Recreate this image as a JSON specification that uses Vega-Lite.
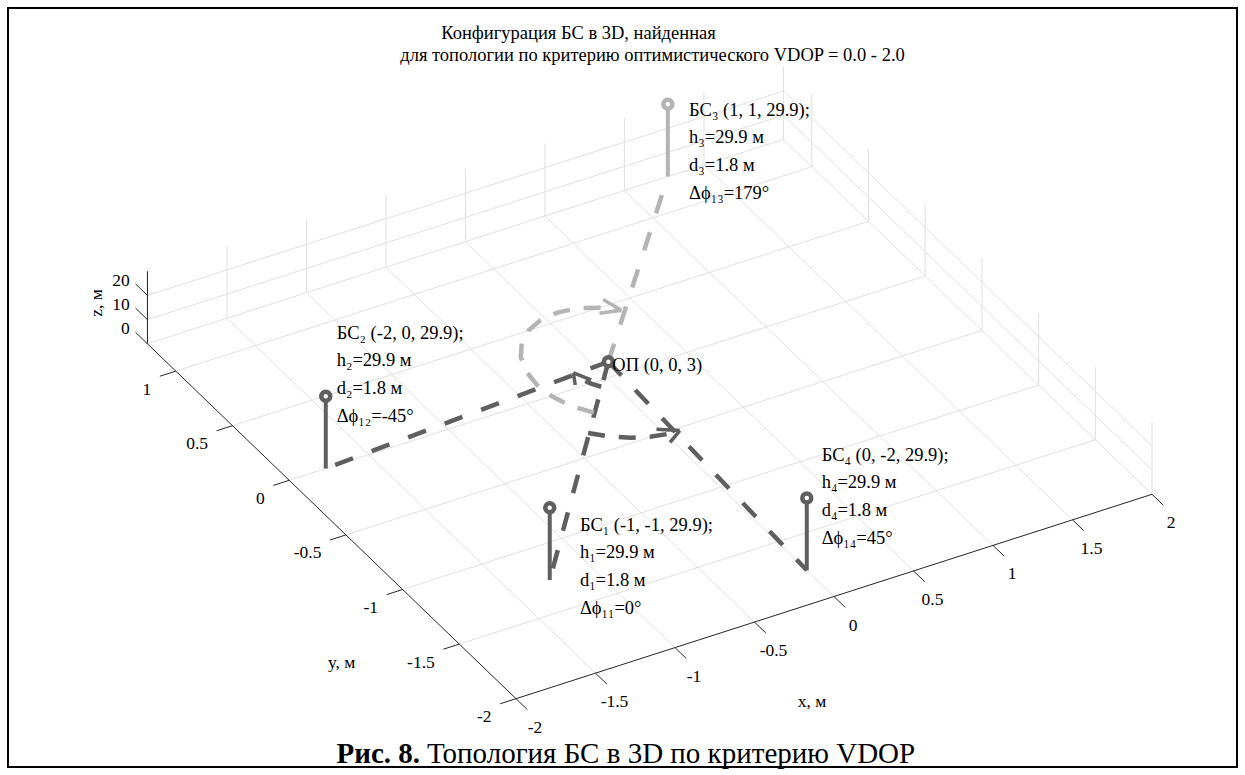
{
  "$schema": "https://vega.github.io/schema/vega-lite/v6.json",
  "autosize": "none",
  "padding": 8,
  "width": 1229,
  "height": 759,
  "background": "white",
  "config": {
    "view": {"stroke": "#000000", "strokeWidth": 2},
    "text": {"font": "Liberation Serif", "color": "#000000"}
  },
  "title": {
    "text": ["Конфигурация БС в 3D, найденная\u00a0\u00a0\u00a0\u00a0\u00a0\u00a0\u00a0\u00a0\u00a0\u00a0\u00a0\u00a0\u00a0\u00a0\u00a0\u00a0\u00a0\u00a0\u00a0\u00a0\u00a0\u00a0\u00a0\u00a0\u00a0\u00a0\u00a0\u00a0\u00a0\u00a0\u00a0\u00a0\u200b", "для топологии по критерию оптимистического VDOP = 0.0 - 2.0"],
    "orient": "top",
    "anchor": "middle",
    "baseline": "top",
    "offset": -56,
    "dx": 30,
    "font": "Liberation Serif",
    "fontSize": 18.5,
    "fontWeight": "normal",
    "lineHeight": 21.5,
    "color": "#000000"
  },
  "data": {
    "values": [
      {"g": "grid", "x": -1.5, "y": -2, "z": 0, "x2": -1.5, "y2": 1.25, "z2": 0},
      {"g": "grid", "x": -1, "y": -2, "z": 0, "x2": -1, "y2": 1.25, "z2": 0},
      {"g": "grid", "x": -0.5, "y": -2, "z": 0, "x2": -0.5, "y2": 1.25, "z2": 0},
      {"g": "grid", "x": 0, "y": -2, "z": 0, "x2": 0, "y2": 1.25, "z2": 0},
      {"g": "grid", "x": 0.5, "y": -2, "z": 0, "x2": 0.5, "y2": 1.25, "z2": 0},
      {"g": "grid", "x": 1, "y": -2, "z": 0, "x2": 1, "y2": 1.25, "z2": 0},
      {"g": "grid", "x": 1.5, "y": -2, "z": 0, "x2": 1.5, "y2": 1.25, "z2": 0},
      {"g": "grid", "x": 2, "y": -2, "z": 0, "x2": 2, "y2": 1.25, "z2": 0},
      {"g": "grid", "x": -2, "y": -1.5, "z": 0, "x2": 2, "y2": -1.5, "z2": 0},
      {"g": "grid", "x": -2, "y": -1, "z": 0, "x2": 2, "y2": -1, "z2": 0},
      {"g": "grid", "x": -2, "y": -0.5, "z": 0, "x2": 2, "y2": -0.5, "z2": 0},
      {"g": "grid", "x": -2, "y": 0, "z": 0, "x2": 2, "y2": 0, "z2": 0},
      {"g": "grid", "x": -2, "y": 0.5, "z": 0, "x2": 2, "y2": 0.5, "z2": 0},
      {"g": "grid", "x": -2, "y": 1, "z": 0, "x2": 2, "y2": 1, "z2": 0},
      {"g": "grid", "x": -1.5, "y": 1.25, "z": 0, "x2": -1.5, "y2": 1.25, "z2": 30},
      {"g": "grid", "x": -1, "y": 1.25, "z": 0, "x2": -1, "y2": 1.25, "z2": 30},
      {"g": "grid", "x": -0.5, "y": 1.25, "z": 0, "x2": -0.5, "y2": 1.25, "z2": 30},
      {"g": "grid", "x": 0, "y": 1.25, "z": 0, "x2": 0, "y2": 1.25, "z2": 30},
      {"g": "grid", "x": 0.5, "y": 1.25, "z": 0, "x2": 0.5, "y2": 1.25, "z2": 30},
      {"g": "grid", "x": 1, "y": 1.25, "z": 0, "x2": 1, "y2": 1.25, "z2": 30},
      {"g": "grid", "x": 1.5, "y": 1.25, "z": 0, "x2": 1.5, "y2": 1.25, "z2": 30},
      {"g": "grid", "x": 2, "y": 1.25, "z": 0, "x2": 2, "y2": 1.25, "z2": 30},
      {"g": "grid", "x": -2, "y": 1.25, "z": 0, "x2": 2, "y2": 1.25, "z2": 0},
      {"g": "grid", "x": -2, "y": 1.25, "z": 10, "x2": 2, "y2": 1.25, "z2": 10},
      {"g": "grid", "x": -2, "y": 1.25, "z": 20, "x2": 2, "y2": 1.25, "z2": 20},
      {"g": "grid", "x": 2, "y": -2, "z": 0, "x2": 2, "y2": -2, "z2": 30},
      {"g": "grid", "x": 2, "y": -1.5, "z": 0, "x2": 2, "y2": -1.5, "z2": 30},
      {"g": "grid", "x": 2, "y": -1, "z": 0, "x2": 2, "y2": -1, "z2": 30},
      {"g": "grid", "x": 2, "y": -0.5, "z": 0, "x2": 2, "y2": -0.5, "z2": 30},
      {"g": "grid", "x": 2, "y": 0, "z": 0, "x2": 2, "y2": 0, "z2": 30},
      {"g": "grid", "x": 2, "y": 0.5, "z": 0, "x2": 2, "y2": 0.5, "z2": 30},
      {"g": "grid", "x": 2, "y": 1, "z": 0, "x2": 2, "y2": 1, "z2": 30},
      {"g": "grid", "x": 2, "y": -2, "z": 10, "x2": 2, "y2": 1.25, "z2": 10},
      {"g": "grid", "x": 2, "y": -2, "z": 20, "x2": 2, "y2": 1.25, "z2": 20},

      {"g": "axis", "x": -2, "y": -2, "z": 0, "x2": 2, "y2": -2, "z2": 0},
      {"g": "axis", "x": -2, "y": -2, "z": 0, "x2": -2, "y2": 1.25, "z2": 0},
      {"g": "axis", "x": -2, "y": 1.25, "z": 0, "x2": -2, "y2": 1.25, "z2": 30},
      {"g": "axis", "x": -2, "y": -2, "z": 0, "x2": -2, "y2": -2.1, "z2": 0},
      {"g": "axis", "x": -1.5, "y": -2, "z": 0, "x2": -1.5, "y2": -2.1, "z2": 0},
      {"g": "axis", "x": -1, "y": -2, "z": 0, "x2": -1, "y2": -2.1, "z2": 0},
      {"g": "axis", "x": -0.5, "y": -2, "z": 0, "x2": -0.5, "y2": -2.1, "z2": 0},
      {"g": "axis", "x": 0, "y": -2, "z": 0, "x2": 0, "y2": -2.1, "z2": 0},
      {"g": "axis", "x": 0.5, "y": -2, "z": 0, "x2": 0.5, "y2": -2.1, "z2": 0},
      {"g": "axis", "x": 1, "y": -2, "z": 0, "x2": 1, "y2": -2.1, "z2": 0},
      {"g": "axis", "x": 1.5, "y": -2, "z": 0, "x2": 1.5, "y2": -2.1, "z2": 0},
      {"g": "axis", "x": 2, "y": -2, "z": 0, "x2": 2, "y2": -2.1, "z2": 0},
      {"g": "axis", "x": -2, "y": -2, "z": 0, "x2": -2.1, "y2": -2, "z2": 0},
      {"g": "axis", "x": -2, "y": -1.5, "z": 0, "x2": -2.1, "y2": -1.5, "z2": 0},
      {"g": "axis", "x": -2, "y": -1, "z": 0, "x2": -2.1, "y2": -1, "z2": 0},
      {"g": "axis", "x": -2, "y": -0.5, "z": 0, "x2": -2.1, "y2": -0.5, "z2": 0},
      {"g": "axis", "x": -2, "y": 0, "z": 0, "x2": -2.1, "y2": 0, "z2": 0},
      {"g": "axis", "x": -2, "y": 0.5, "z": 0, "x2": -2.1, "y2": 0.5, "z2": 0},
      {"g": "axis", "x": -2, "y": 1, "z": 0, "x2": -2.1, "y2": 1, "z2": 0},
      {"g": "axis", "x": -2, "y": 1.25, "z": 0, "x2": -2, "y2": 1.355, "z2": 0},
      {"g": "axis", "x": -2, "y": 1.25, "z": 10, "x2": -2, "y2": 1.355, "z2": 10},
      {"g": "axis", "x": -2, "y": 1.25, "z": 20, "x2": -2, "y2": 1.355, "z2": 20},

      {"g": "xl", "t": "-2", "x": -2, "y": -2, "z": 0},
      {"g": "xl", "t": "-1.5", "x": -1.5, "y": -2, "z": 0},
      {"g": "xl", "t": "-1", "x": -1, "y": -2, "z": 0},
      {"g": "xl", "t": "-0.5", "x": -0.5, "y": -2, "z": 0},
      {"g": "xl", "t": "0", "x": 0, "y": -2, "z": 0},
      {"g": "xl", "t": "0.5", "x": 0.5, "y": -2, "z": 0},
      {"g": "xl", "t": "1", "x": 1, "y": -2, "z": 0},
      {"g": "xl", "t": "1.5", "x": 1.5, "y": -2, "z": 0},
      {"g": "xl", "t": "2", "x": 2, "y": -2, "z": 0},
      {"g": "yl", "t": "-2", "x": -2, "y": -2, "z": 0},
      {"g": "yl", "t": "-1.5", "x": -2, "y": -1.5, "z": 0},
      {"g": "yl", "t": "-1", "x": -2, "y": -1, "z": 0},
      {"g": "yl", "t": "-0.5", "x": -2, "y": -0.5, "z": 0},
      {"g": "yl", "t": "0", "x": -2, "y": 0, "z": 0},
      {"g": "yl", "t": "0.5", "x": -2, "y": 0.5, "z": 0},
      {"g": "yl", "t": "1", "x": -2, "y": 1, "z": 0},
      {"g": "zl", "t": "0", "x": -2, "y": 1.25, "z": 0},
      {"g": "zl", "t": "10", "x": -2, "y": 1.25, "z": 10},
      {"g": "zl", "t": "20", "x": -2, "y": 1.25, "z": 20},
      {"g": "at", "t": "x, м", "x": -0.62, "y": -2.676, "z": 0},
      {"g": "at", "t": "y, м", "x": -2.646, "y": -1.368, "z": 0},
      {"g": "zt", "t": "z, м", "x": -2.216, "y": 1.392, "z": 15},

      {"g": "ray", "st": "БС1", "x": 0.05, "y": 0.06, "z": 3, "x2": -1.26, "y2": -1.26, "z2": 0},
      {"g": "ray", "st": "БС2", "x": 0.05, "y": 0.06, "z": 3, "x2": -1.77, "y2": 0, "z2": 0},
      {"g": "ray", "st": "БС3", "x": 0.05, "y": 0.06, "z": 3, "x2": 1.273, "y2": 1.25, "z2": 0},
      {"g": "ray", "st": "БС4", "x": 0.05, "y": 0.06, "z": 3, "x2": 0, "y2": -1.76, "z2": 0},

      {"g": "arc", "st": "БС3", "k": "a3", "i": 0, "x": -0.268, "y": -0.258, "z": 3},
      {"g": "arc", "st": "БС3", "k": "a3", "i": 1, "x": -0.34, "y": -0.165, "z": 3},
      {"g": "arc", "st": "БС3", "k": "a3", "i": 2, "x": -0.385, "y": -0.056, "z": 3},
      {"g": "arc", "st": "БС3", "k": "a3", "i": 3, "x": -0.4, "y": 0.06, "z": 3},
      {"g": "arc", "st": "БС3", "k": "a3", "i": 4, "x": -0.385, "y": 0.176, "z": 3},
      {"g": "arc", "st": "БС3", "k": "a3", "i": 5, "x": -0.34, "y": 0.285, "z": 3},
      {"g": "arc", "st": "БС3", "k": "a3", "i": 6, "x": -0.268, "y": 0.378, "z": 3},
      {"g": "arc", "st": "БС3", "k": "a3", "i": 7, "x": -0.175, "y": 0.45, "z": 3},
      {"g": "arc", "st": "БС3", "k": "a3", "i": 8, "x": -0.066, "y": 0.495, "z": 3},
      {"g": "arc", "st": "БС3", "k": "a3", "i": 9, "x": 0.05, "y": 0.51, "z": 3},
      {"g": "arc", "st": "БС3", "k": "a3", "i": 10, "x": 0.166, "y": 0.495, "z": 3},
      {"g": "arc", "st": "БС3", "k": "a3", "i": 11, "x": 0.275, "y": 0.45, "z": 3},
      {"g": "arc", "st": "БС3", "k": "a3", "i": 12, "x": 0.363, "y": 0.384, "z": 3},
      {"g": "arc", "st": "БС4", "k": "a4", "i": 0, "x": -0.395, "y": -0.385, "z": 3},
      {"g": "arc", "st": "БС4", "k": "a4", "i": 1, "x": -0.311, "y": -0.456, "z": 3},
      {"g": "arc", "st": "БС4", "k": "a4", "i": 2, "x": -0.216, "y": -0.511, "z": 3},
      {"g": "arc", "st": "БС4", "k": "a4", "i": 3, "x": -0.113, "y": -0.549, "z": 3},
      {"g": "arc", "st": "БС4", "k": "a4", "i": 4, "x": -0.038, "y": -0.564, "z": 3},
      {"g": "arc", "st": "БС4", "k": "a4", "i": 5, "x": 0.05, "y": -0.57, "z": 3},
      {"g": "arc", "st": "БС2", "k": "a2", "i": 0, "x": -0.106, "y": -0.096, "z": 3},
      {"g": "arc", "st": "БС2", "k": "a2", "i": 1, "x": -0.141, "y": -0.05, "z": 3},
      {"g": "arc", "st": "БС2", "k": "a2", "i": 2, "x": -0.163, "y": 0.003, "z": 3},
      {"g": "arc", "st": "БС2", "k": "a2", "i": 3, "x": -0.17, "y": 0.06, "z": 3},

      {"g": "barb", "st": "БС3", "x": 0.363, "y": 0.384, "z": 3, "x2": 0.246, "y2": 0.413, "z2": 3},
      {"g": "barb", "st": "БС3", "x": 0.363, "y": 0.384, "z": 3, "x2": 0.33, "y2": 0.499, "z2": 3},
      {"g": "barb", "st": "БС4", "x": 0.05, "y": -0.57, "z": 3, "x2": -0.054, "y2": -0.63, "z2": 3},
      {"g": "barb", "st": "БС4", "x": 0.05, "y": -0.57, "z": 3, "x2": -0.054, "y2": -0.51, "z2": 3},
      {"g": "barb", "st": "БС2", "x": -0.17, "y": 0.06, "z": 3, "x2": -0.12, "y2": -0.027, "z2": 3},
      {"g": "barb", "st": "БС2", "x": -0.17, "y": 0.06, "z": 3, "x2": -0.22, "y2": -0.027, "z2": 3},

      {"g": "stem", "st": "БС1", "x": -1.26, "y": -1.26, "z": 0, "x2": -1.26, "y2": -1.26, "z2": 29.9},
      {"g": "stem", "st": "БС2", "x": -1.77, "y": 0, "z": 0, "x2": -1.77, "y2": 0, "z2": 29.9},
      {"g": "stem", "st": "БС3", "x": 1.273, "y": 1.25, "z": 0, "x2": 1.273, "y2": 1.25, "z2": 29.9},
      {"g": "stem", "st": "БС4", "x": 0, "y": -1.76, "z": 0, "x2": 0, "y2": -1.76, "z2": 29.9},

      {"g": "mk", "st": "БС1", "x": -1.26, "y": -1.26, "z": 29.9},
      {"g": "mk", "st": "БС2", "x": -1.77, "y": 0, "z": 29.9},
      {"g": "mk", "st": "БС3", "x": 1.273, "y": 1.25, "z": 29.9},
      {"g": "mk", "st": "БС4", "x": 0, "y": -1.76, "z": 29.9},
      {"g": "mk", "st": "ОП", "x": 0.05, "y": 0.06, "z": 3},

      {"g": "bl", "st": "БС1", "x": -1.156, "y": -1.38, "z": 29.9, "t": ["БС₁ (-1, -1, 29.9);", "h₁=29.9 м", "d₁=1.8 м", "Δϕ₁₁=0°"]},
      {"g": "bl", "st": "БС2", "x": -1.364, "y": 0.473, "z": 29.9, "t": ["БС₂ (-2, 0, 29.9);", "h₂=29.9 м", "d₂=1.8 м", "Δϕ₁₂=-45°"]},
      {"g": "bl", "st": "БС3", "x": 1.391, "y": 1.228, "z": 29.9, "t": ["БС₃ (1, 1, 29.9);", "h₃=29.9 м", "d₃=1.8 м", "Δϕ₁₃=179°"]},
      {"g": "bl", "st": "БС4", "x": 0.327, "y": -1.433, "z": 29.9, "t": ["БС₄ (0, -2, 29.9);", "h₄=29.9 м", "d₄=1.8 м", "Δϕ₁₄=45°"]},
      {"g": "opl", "st": "ОП", "x": 0.05, "y": 0.06, "z": 3, "t": "ОП (0, 0, 3)"}
    ]
  },
  "transform": [
    {"calculate": "159 * datum.x - 113.4 * datum.y", "as": "u"},
    {"calculate": "51.1 * datum.x + 109.2 * datum.y + 2.42 * datum.z", "as": "w"},
    {"calculate": "159 * datum.x2 - 113.4 * datum.y2", "as": "u2"},
    {"calculate": "51.1 * datum.x2 + 109.2 * datum.y2 + 2.42 * datum.z2", "as": "w2"}
  ],
  "encoding": {
    "x": {
      "field": "u", "type": "quantitative",
      "scale": {"domain": [-599.2, 629.8], "nice": false, "zero": false},
      "axis": {
        "orient": "bottom", "domain": false, "ticks": false, "labels": false, "grid": false,
        "title": "Рис. 8.", "titleFont": "Liberation Serif", "titleFontSize": 29, "titleFontWeight": "bold",
        "titleColor": "#000000", "titleAlign": "left", "titleBaseline": "middle",
        "titleX": 328, "titleY": -14
      }
    },
    "y": {
      "field": "w", "type": "quantitative",
      "scale": {"domain": [-388.9, 370.1], "nice": false, "zero": false},
      "axis": {
        "orient": "left", "domain": false, "ticks": false, "labels": false, "grid": false,
        "title": "Топология БС в 3D по критерию VDOP", "titleFont": "Liberation Serif", "titleFontSize": 29,
        "titleFontWeight": "normal", "titleColor": "#000000", "titleAngle": 0, "titleAlign": "left",
        "titleBaseline": "middle", "titleX": 418.5, "titleY": 745
      }
    }
  },
  "layer": [
    {
      "transform": [{"filter": "datum.g === 'grid'"}],
      "mark": {"type": "rule", "color": "#e0e0e0", "strokeWidth": 1},
      "encoding": {"x2": {"field": "u2"}, "y2": {"field": "w2"}}
    },
    {
      "transform": [{"filter": "datum.g === 'axis'"}],
      "mark": {"type": "rule", "color": "#262626", "strokeWidth": 1},
      "encoding": {"x2": {"field": "u2"}, "y2": {"field": "w2"}}
    },
    {
      "transform": [{"filter": "datum.g === 'ray'"}],
      "mark": {"type": "rule", "strokeWidth": 4.5, "strokeDash": [19, 20], "strokeCap": "butt"},
      "encoding": {
        "x2": {"field": "u2"}, "y2": {"field": "w2"},
        "color": {"field": "st", "type": "nominal", "legend": null,
          "scale": {"domain": ["ОП", "БС1", "БС2", "БС3", "БС4"], "range": ["#5f5f5f", "#5f5f5f", "#5f5f5f", "#b4b4b4", "#5f5f5f"]}}
      }
    },
    {
      "transform": [{"filter": "datum.g === 'arc'"}],
      "mark": {"type": "line", "strokeWidth": 4.5, "strokeDash": [17, 14], "strokeCap": "butt"},
      "encoding": {
        "detail": {"field": "k"},
        "order": {"field": "i", "type": "quantitative"},
        "color": {"field": "st", "type": "nominal", "legend": null,
          "scale": {"domain": ["ОП", "БС1", "БС2", "БС3", "БС4"], "range": ["#5f5f5f", "#5f5f5f", "#5f5f5f", "#b4b4b4", "#5f5f5f"]}}
      }
    },
    {
      "transform": [{"filter": "datum.g === 'barb'"}],
      "mark": {"type": "rule", "strokeWidth": 3.5},
      "encoding": {
        "x2": {"field": "u2"}, "y2": {"field": "w2"},
        "color": {"field": "st", "type": "nominal", "legend": null,
          "scale": {"domain": ["ОП", "БС1", "БС2", "БС3", "БС4"], "range": ["#5f5f5f", "#5f5f5f", "#5f5f5f", "#b4b4b4", "#5f5f5f"]}}
      }
    },
    {
      "transform": [{"filter": "datum.g === 'stem'"}],
      "mark": {"type": "rule", "strokeWidth": 4},
      "encoding": {
        "x2": {"field": "u2"}, "y2": {"field": "w2"},
        "color": {"field": "st", "type": "nominal", "legend": null,
          "scale": {"domain": ["ОП", "БС1", "БС2", "БС3", "БС4"], "range": ["#5f5f5f", "#5f5f5f", "#5f5f5f", "#b4b4b4", "#5f5f5f"]}}
      }
    },
    {
      "transform": [{"filter": "datum.g === 'mk'"}],
      "mark": {"type": "point", "filled": true, "fill": "#ffffff", "size": 80, "strokeWidth": 4.5, "opacity": 1},
      "encoding": {
        "stroke": {"field": "st", "type": "nominal", "legend": null,
          "scale": {"domain": ["ОП", "БС1", "БС2", "БС3", "БС4"], "range": ["#5f5f5f", "#5f5f5f", "#5f5f5f", "#b4b4b4", "#5f5f5f"]}}
      }
    },
    {
      "transform": [{"filter": "datum.g === 'xl'"}],
      "mark": {"type": "text", "fontSize": 17.5, "align": "center", "baseline": "middle", "dx": 19, "dy": 29},
      "encoding": {"text": {"field": "t"}}
    },
    {
      "transform": [{"filter": "datum.g === 'yl'"}],
      "mark": {"type": "text", "fontSize": 17.5, "align": "right", "baseline": "middle", "dx": -24.5, "dy": 18.5},
      "encoding": {"text": {"field": "t"}}
    },
    {
      "transform": [{"filter": "datum.g === 'zl'"}],
      "mark": {"type": "text", "fontSize": 17.5, "align": "right", "baseline": "middle", "dx": -17.6, "dy": -14.4},
      "encoding": {"text": {"field": "t"}}
    },
    {
      "transform": [{"filter": "datum.g === 'at'"}],
      "mark": {"type": "text", "fontSize": 17.5, "align": "center", "baseline": "middle"},
      "encoding": {"text": {"field": "t"}}
    },
    {
      "transform": [{"filter": "datum.g === 'zt'"}],
      "mark": {"type": "text", "fontSize": 17.5, "align": "center", "baseline": "middle", "angle": 270},
      "encoding": {"text": {"field": "t"}}
    },
    {
      "transform": [{"filter": "datum.g === 'bl'"}],
      "mark": {"type": "text", "fontSize": 18.5, "align": "left", "baseline": "top", "lineHeight": 27.7},
      "encoding": {"text": {"field": "t"}}
    },
    {
      "transform": [{"filter": "datum.g === 'opl'"}],
      "mark": {"type": "text", "fontSize": 18.5, "align": "left", "baseline": "middle", "dx": 4, "dy": 3},
      "encoding": {"text": {"field": "t"}}
    }
  ]
}
